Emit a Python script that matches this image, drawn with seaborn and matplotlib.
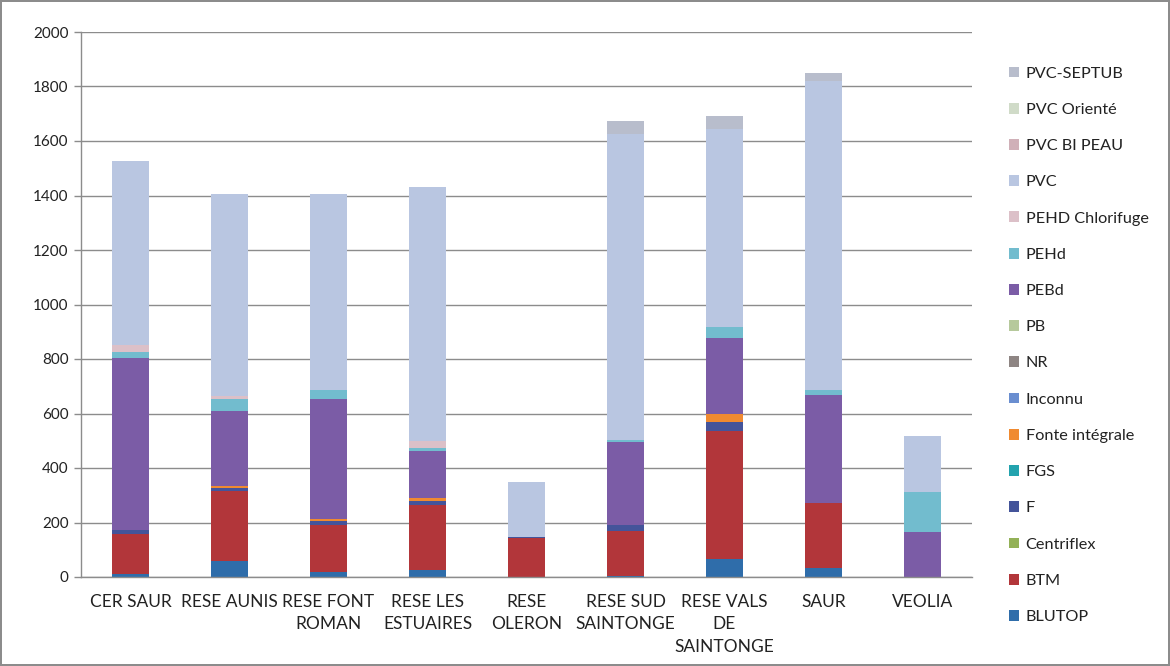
import matplotlib
matplotlib.use("Agg")
import matplotlib.pyplot as plt
import seaborn as sns
import numpy as np
import pandas as pd
from matplotlib.patches import Patch

sns.set_theme(style="white")
plt.rcParams['font.family'] = ['Lato', 'DejaVu Sans']

categories = ["CER SAUR", "RESE AUNIS", "RESE FONT\nROMAN", "RESE LES\nESTUAIRES",
              "RESE\nOLERON", "RESE SUD\nSAINTONGE", "RESE VALS\nDE\nSAINTONGE", "SAUR", "VEOLIA"]

series_names = ["BLUTOP", "BTM", "Centriflex", "F", "FGS", "Fonte intégrale", "Inconnu", "NR",
                "PB", "PEBd", "PEHd", "PEHD Chlorifuge", "PVC", "PVC BI PEAU", "PVC Orienté", "PVC-SEPTUB"]

BLUTOP = [12, 58, 17, 25, 0, 4, 66, 32, 0]
BTM = [144, 257, 175, 241, 143, 164, 469, 238, 0]
Centriflex = [0, 0, 0, 0, 0, 0, 0, 0, 0]
F = [18, 12, 12, 12, 5, 22, 33, 0, 0]
FGS = [0, 0, 0, 0, 0, 0, 0, 0, 0]
Fonte_integrale = [0, 8, 10, 12, 0, 0, 29, 0, 0]
Inconnu = [0, 0, 0, 0, 0, 0, 0, 0, 0]
NR = [0, 0, 0, 0, 0, 0, 0, 0, 0]
PB = [0, 0, 0, 0, 0, 0, 0, 0, 0]
PEBd = [631, 276, 438, 172, 0, 305, 281, 397, 166]
PEHd = [20, 41, 33, 12, 0, 7, 40, 20, 147]
PEHD_Chlorifuge = [25, 13, 0, 25, 0, 0, 0, 0, 0]
PVC = [675, 742, 722, 931, 200, 1122, 725, 1132, 205]
PVC_BI_PEAU = [0, 0, 0, 0, 0, 0, 0, 0, 0]
PVC_Oriente = [0, 0, 0, 0, 0, 0, 0, 0, 0]
PVC_SEPTUB = [0, 0, 0, 0, 0, 50, 50, 30, 0]

series_values = [BLUTOP, BTM, Centriflex, F, FGS, Fonte_integrale, Inconnu, NR, PB,
                 PEBd, PEHd, PEHD_Chlorifuge, PVC, PVC_BI_PEAU, PVC_Oriente, PVC_SEPTUB]

colors = ["#2F6DAA", "#B2363A", "#93B157", "#44549A", "#23A3AE", "#F08A30", "#6A8ED0", "#8E8583",
          "#B6C99C", "#7B5CA6", "#72BCCE", "#DCC0C8", "#B9C6E1", "#D0B0B8", "#D0DBC8", "#B8BDCC"]

yticks = [0, 200, 400, 600, 800, 1000, 1200, 1400, 1600, 1800, 2000]

fig = plt.figure(figsize=(11.7, 6.66), dpi=100)
ax = fig.add_axes([81/1170, 1-577/666, (972-81)/1170, (577-32)/666])

bottom = np.zeros(len(categories))
for name, vals, col in zip(series_names, series_values, colors):
    df = pd.DataFrame({"cat": categories, "val": vals})
    sns.barplot(data=df, x="cat", y="val", color=col, saturation=1, width=0.38,
                errorbar=None, bottom=bottom.copy(), linewidth=0, ax=ax, order=categories)
    bottom += np.array(vals, dtype=float)

ax.set_ylim(0, 2000)
ax.set_xlim(-0.5, len(categories) - 0.5)
ax.set_yticks(yticks)
ax.set_yticklabels([str(t) for t in yticks], fontsize=11, color="#222222")
ax.yaxis.grid(True, color="#8C8C8C", linewidth=1.0)
ax.set_axisbelow(True)
ax.set_xlabel("")
ax.set_ylabel("")
ax.set_xticks(range(len(categories)))
ax.set_xticklabels(categories, fontsize=12.5, color="#222222", linespacing=1.5)
ax.tick_params(axis="x", length=0, pad=12)
ax.set_xticks(np.arange(-0.5, len(categories), 1.0), minor=True)
ax.tick_params(axis="x", which="minor", length=5, color="#8C8C8C", width=1, direction="out")
ax.tick_params(axis="y", length=5, color="#8C8C8C", width=1, direction="out", left=True, pad=4)
for s in ["top", "right"]:
    ax.spines[s].set_visible(False)
for s in ["left", "bottom"]:
    ax.spines[s].set_color("#8C8C8C")
    ax.spines[s].set_linewidth(1.0)

handles = [Patch(facecolor=c, edgecolor="none") for c in colors][::-1]
labels = series_names[::-1]
fig.legend(handles, labels, loc="upper left", bbox_to_anchor=(1002/1170, 1-60/666),
           frameon=False, fontsize=11.7, handlelength=0.65, handleheight=0.65,
           handletextpad=0.4, labelspacing=1.36, borderaxespad=0, labelcolor="#222222")

fig.patch.set_facecolor("white")
fig.patch.set_edgecolor("#8C8C8C")
fig.patch.set_linewidth(1.5)

fig.savefig("out.png", dpi=100, edgecolor=fig.get_edgecolor())
